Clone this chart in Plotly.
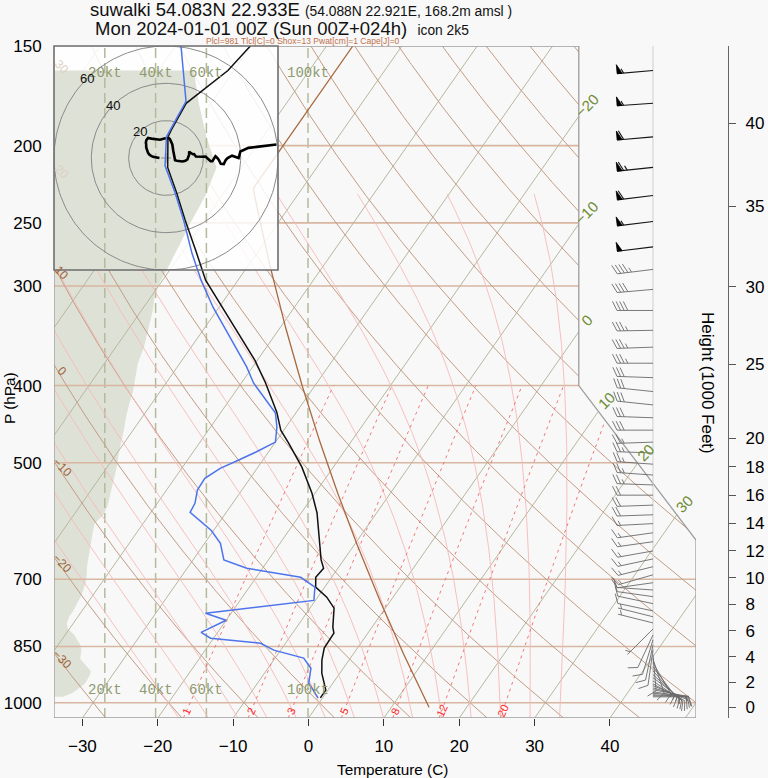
import numpy as np
import plotly.graph_objects as go

# ====================== values ======================
station_title = "suwalki 54.083N 22.933E"
station_detail = "(54.088N 22.921E, 168.2m amsl )"
run_title = "Mon 2024-01-01 00Z (Sun 00Z+024h)"
model_name = "icon 2k5"
index_line = "Plcl=981 Tlcl[C]=0 Shox=13 Pwat[cm]=1 Cape[J]=0"

# temperature profile (hPa, deg C)
temp_p = [986, 964, 918, 884, 854, 818, 804, 761, 737, 716, 696, 678, 662,
          607, 578, 546, 506, 472, 455, 432, 397, 372, 324, 295, 270, 248,
          229, 213, 195, 191, 177, 161, 150]
temp_c = [-0.3, -0.3, -2.4, -3.6, -4.4, -4.5, -5.2, -6.8, -8.8, -11.2, -12.1,
          -11.9, -13.0, -16.1, -17.9, -20.4, -24.2, -28.2, -30.4, -32.6, -36.8,
          -40.3, -48.6, -54.3, -58.5, -62.6, -66.3, -69.8, -72.6, -72.8, -73.3,
          -70.8, -70.1]

# dew point profile (hPa, deg C)
dewp_p = [986, 945, 905, 879, 859, 842, 830, 816, 788, 772, 744, 716, 696,
          678, 662, 631, 608, 577, 562, 541, 523, 508, 496, 485, 471, 451,
          433, 417, 397, 379, 341, 319, 295, 273, 248, 229, 212, 195, 176,
          162, 150]
dewp_c = [-0.6, -3.2, -4.3, -6.2, -10.9, -13.3, -20.4, -22.2, -20.0, -23.4,
          -10.2, -11.3, -14.1, -22.1, -25.9, -27.9, -30.3, -34.8, -35.0, -35.9,
          -36.0, -34.9, -33.2, -31.7, -30.0, -31.2, -32.7, -35.2, -38.4, -40.8,
          -46.9, -50.8, -54.9, -58.6, -62.8, -66.5, -70.3, -72.8, -73.5, -76.5,
          -79.3]

# wind profile (hPa, knots, direction in degrees)
wind_p = [983, 980, 977, 973, 969, 963, 958, 952, 947, 939, 930, 922, 912,
          901, 891, 881, 871, 858, 846, 834, 822, 808, 794, 780, 767, 751,
          736, 722, 707, 691, 675, 660, 645, 628, 612, 596, 581, 565, 549,
          533, 518, 502, 486, 471, 455, 439, 423, 407, 391, 375, 358, 341,
          322, 303, 286, 268, 249, 231, 213, 195, 177, 161]
wind_kt = [3.5, 4.5, 6, 7, 8, 9, 10, 11, 12, 12.8, 13.5, 14.2, 14.4, 13, 11.5,
           10.3, 10.5, 10.8, 10.3, 9.2, 8, 5.5, 5, 6, 7.5, 9, 10.5, 11.5, 12.5,
           12.9, 13, 13.5, 14, 14.5, 15.2, 16, 19.5, 21.2, 22, 23, 24, 24.9,
           25.5, 26.5, 27.5, 28.3, 29.5, 31.1, 32, 33, 35.4, 37, 38.9, 40, 44.5,
           49, 54, 59.6, 64, 60, 57, 55]
wind_dir = [90, 91, 93, 95, 98, 101, 106, 112, 118, 124, 127, 132, 138, 143,
            150, 162, 175, 188, 192, 197, 205, 225, 284, 284, 282, 282, 278,
            274, 262, 254, 256, 258, 260, 262, 262, 267, 268, 268, 270, 272,
            274, 274, 272, 268, 270, 272, 276, 276, 272, 270, 268, 269, 270,
            265, 263, 263, 263, 263, 264, 265, 266, 265]

pressure_ticks = [1000, 850, 700, 500, 400, 300, 250, 200, 150]
pressure_lines = [1000, 850, 700, 500, 400, 300, 250, 200]
temp_ticks = [-30, -20, -10, 0, 10, 20, 30, 40]
height_ticks_kft = [0, 2, 4, 6, 8, 10, 12, 14, 16, 18, 20, 25, 30, 35, 40]
isotherm_values = list(range(-100, 51, 10))
isotherm_labels = [-20, -10, 0, 10, 20, 30]
dry_adiabats = list(range(-30, 171, 10))
dry_labels = [-30, -20, -10, 0, 10, 20, 30]
moist_thetaw = [-20, -16, -12, -8, -4, 0, 4, 8, 12, 16, 20, 24, 28, 32]
mixing_ratios = [1, 2, 3, 5, 8, 12, 20]
hodo_rings = [20, 40, 60]
speed_guides = [20, 40, 60, 100]

# ============================ layout geometry ==============================
FIG_W, FIG_H = 768, 778
M_L, M_T, M_R, M_B = 54, 46, 20, 60
PLOT_W = FIG_W - M_L - M_R
PLOT_H = FIG_H - M_T - M_B
MAIN_W = 642
MAIN_DOM = MAIN_W / PLOT_W
BOX_PX = 224
SPEED100_PX = 254
BARB_BASE_PX = 599
HODO_TOP_P = 230
MOIST_TOP_P = 230
MIX_TOP_P = 400

BG = "#f8f8f8"
FONT = "Liberation Sans"


def skewty(p):
    return 132.182 - 44.061 * np.log10(np.asarray(p, dtype=float))


def skewtx(t, y):
    return 0.54 * np.asarray(t, dtype=float) + 0.90692 * np.asarray(y, dtype=float)


P_BOT, P_TOP = 1045.0, 150.0
Y_BOT, Y_TOP = float(skewty(P_BOT)), float(skewty(P_TOP))
X_MAX = float(skewtx(50, skewty(1000)))
X_MIN = -19.0
X_KINK = float(skewtx(5, skewty(400)))
Y_625, Y_400 = float(skewty(625)), float(skewty(400))
PX_X = MAIN_W / (X_MAX - X_MIN)
PX_Y = PLOT_H / (Y_TOP - Y_BOT)
KT_MAX = 100.0 * MAIN_W / SPEED100_PX


def to_page(x, y):
    return M_L + (x - X_MIN) * PX_X, M_T + (Y_TOP - y) * PX_Y


# ---------------------------- thermodynamics -------------------------------
def tda(theta_c, p):
    return (theta_c + 273.15) * (np.asarray(p) / 1000.0) ** 0.286 - 273.15


def tmr(w, p):
    e = w * np.asarray(p) / (622.0 + w)
    a = np.log(e / 6.112)
    return 243.5 * a / (17.67 - a)


def es(tc):
    return 6.112 * np.exp(17.67 * tc / (tc + 243.5))


def moist_curve(thw, p_out):
    Rd, cp, Lv, eps = 287.04, 1005.7, 2.501e6, 0.622

    def f(T, p):
        e = es(T - 273.15)
        rs = eps * e / (p - e)
        return (Rd * T + Lv * rs) / (cp + Lv * Lv * rs * eps / (Rd * T * T)) / p

    def integrate(p_end, dp):
        p, T = 1000.0, thw + 273.15
        ps, Ts = [p], [T]
        while (dp < 0 and p > p_end) or (dp > 0 and p < p_end):
            k1 = f(T, p)
            k2 = f(T + 0.5 * dp * k1, p + 0.5 * dp)
            k3 = f(T + 0.5 * dp * k2, p + 0.5 * dp)
            k4 = f(T + dp * k3, p + dp)
            T += dp * (k1 + 2 * k2 + 2 * k3 + k4) / 6.0
            p += dp
            ps.append(p)
            Ts.append(T)
        return ps, Ts

    pu, Tu = integrate(min(p_out) - 2, -2.0)
    pd, Tdn = integrate(max(p_out) + 2, 2.0)
    ps = np.array(pd[::-1] + pu[1:])
    Ts = np.array(Tdn[::-1] + Tu[1:])
    order = np.argsort(ps)
    return np.interp(p_out, ps[order], Ts[order]) - 273.15


def std_atm_T(p):
    p = np.asarray(p, dtype=float)
    return np.where(p >= 226.32, 288.15 * (p / 1013.25) ** 0.190263 - 273.15, -56.5)


def std_atm_p(z_m):
    z_m = np.asarray(z_m, dtype=float)
    return np.where(z_m <= 11000, 1013.25 * (1 - 2.25577e-5 * z_m) ** 5.25588,
                    226.32 * np.exp(-(z_m - 11000) / 6341.6))


# ------------------------- clipping to the frame ---------------------------
POLY = [(X_MIN, Y_BOT), (X_MAX, Y_BOT), (X_MAX, Y_625), (X_KINK, Y_400),
        (X_KINK, Y_TOP), (X_MIN, Y_TOP)]
PARTS = [
    [(X_MIN, Y_BOT), (X_KINK, Y_BOT), (X_KINK, Y_TOP), (X_MIN, Y_TOP)],
    [(X_KINK, Y_BOT), (X_MAX, Y_BOT), (X_MAX, Y_625), (X_KINK, Y_400)],
]


def _cross(a, b):
    return a[0] * b[1] - a[1] * b[0]


def clip_t(p0, p1, poly):
    t0, t1 = 0.0, 1.0
    d = (p1[0] - p0[0], p1[1] - p0[1])
    n = len(poly)
    for i in range(n):
        a, b = poly[i], poly[(i + 1) % n]
        e = (b[0] - a[0], b[1] - a[1])
        num = _cross(e, (p0[0] - a[0], p0[1] - a[1]))
        den = _cross(e, d)
        if abs(den) < 1e-12:
            if num < 0:
                return None
            continue
        t = -num / den
        if den > 0:
            t0 = max(t0, t)
        else:
            t1 = min(t1, t)
        if t0 > t1:
            return None
    return (t0, t1)


def clip_seg(p0, p1):
    ivs = [iv for iv in (clip_t(p0, p1, P) for P in PARTS) if iv is not None]
    if not ivs:
        return []
    ivs.sort()
    merged = [list(ivs[0])]
    for a, b in ivs[1:]:
        if a <= merged[-1][1] + 1e-9:
            merged[-1][1] = max(merged[-1][1], b)
        else:
            merged.append([a, b])
    d = (p1[0] - p0[0], p1[1] - p0[1])
    return [((p0[0] + a * d[0], p0[1] + a * d[1]), (p0[0] + b * d[0], p0[1] + b * d[1]))
            for a, b in merged if b - a > 1e-12]


def clip_polyline(xs, ys):
    ox, oy = [], []
    last = None
    for i in range(len(xs) - 1):
        pieces = clip_seg((xs[i], ys[i]), (xs[i + 1], ys[i + 1]))
        if not pieces:
            last = None
            continue
        for a, b in pieces:
            if last is not None and abs(a[0] - last[0]) < 1e-9 and abs(a[1] - last[1]) < 1e-9:
                ox.append(b[0])
                oy.append(b[1])
            else:
                if ox:
                    ox.append(None)
                    oy.append(None)
                ox += [a[0], b[0]]
                oy += [a[1], b[1]]
            last = b
    return ox, oy


def join(parts):
    X, Y = [], []
    for xs, ys in parts:
        if not xs:
            continue
        if X:
            X.append(None)
            Y.append(None)
        X += list(xs)
        Y += list(ys)
    return X, Y


fig = go.Figure()


def line_trace(x, y, color, width, xa="x2", ya="y", dash=None):
    fig.add_trace(go.Scatter(x=x, y=y, mode="lines", xaxis=xa, yaxis=ya,
                             line=dict(color=color, width=width, dash=dash),
                             hoverinfo="skip", showlegend=False))


# ----------------------- wind speed profile shading ------------------------
wY = skewty(wind_p)
shade_x = [0.0] + list(wind_kt) + [0.0]
shade_y = [float(wY[0])] + list(wY) + [float(wY[-1])]
SHADE = "#dee1d6"
fig.add_trace(go.Scatter(x=shade_x, y=shade_y, xaxis="x", yaxis="y", mode="lines",
                         fill="toself", fillcolor=SHADE, line=dict(width=0),
                         hoverinfo="skip", showlegend=False))
for s in speed_guides:
    line_trace([s, s], [Y_BOT, Y_TOP], "#b4bb9c", 1.5, xa="x", ya="y", dash="10px,5px")

# ------------------------------- grid --------------------------------------
p_dense = np.geomspace(P_BOT, 100, 400)
y_dense = skewty(p_dense)

parts = []
for p in pressure_lines:
    yy = float(skewty(p))
    parts.append(clip_polyline([X_MIN - 1, X_MAX + 1], [yy, yy]))
px_, py_ = join(parts)
line_trace(px_, py_, "#d8b6a0", 1.6)

iso_ends = {}
parts = []
for t in isotherm_values:
    cx, cy = clip_polyline([float(skewtx(t, Y_BOT)), float(skewtx(t, Y_TOP + 10))],
                           [Y_BOT, Y_TOP + 10])
    if cx:
        iso_ends[t] = (cx[-1], cy[-1])
    parts.append((cx, cy))
ix, iy = join(parts)
line_trace(ix, iy, "#b7b79e", 1.0)

dry_ends = {}
parts = []
for th in dry_adiabats:
    xs = skewtx(tda(th, p_dense), y_dense)
    cx, cy = clip_polyline(list(xs), list(y_dense))
    if cx:
        dry_ends[th] = (cx[-1], cy[-1])
    parts.append((cx, cy))
dx_, dy_ = join(parts)
line_trace(dx_, dy_, "#c29c84", 1.0)

p_moist = np.geomspace(P_BOT, MOIST_TOP_P, 160)
y_moist = skewty(p_moist)
parts = []
for thw in moist_thetaw:
    xs = skewtx(moist_curve(thw, p_moist), y_moist)
    parts.append(clip_polyline(list(xs), list(y_moist)))
mx_, my_ = join(parts)
line_trace(mx_, my_, "#f7b9b9", 0.9)

p_mix = np.geomspace(P_BOT, MIX_TOP_P, 60)
y_mix = skewty(p_mix)
parts = []
for w in mixing_ratios:
    xs = skewtx(tmr(w, p_mix), y_mix)
    parts.append(clip_polyline(list(xs), list(y_mix)))
wx_, wy_ = join(parts)
line_trace(wx_, wy_, "#f07878", 1.0, dash="3px,4px")

p_std = np.geomspace(1013.25, P_TOP, 200)
y_std = skewty(p_std)
sx, sy = clip_polyline(list(skewtx(std_atm_T(p_std), y_std)), list(y_std))
line_trace(sx, sy, "#a8693f", 1.3)

fx = [v[0] for v in POLY] + [POLY[0][0]]
fy = [v[1] for v in POLY] + [POLY[0][1]]
line_trace(fx, fy, "#9d9d9d", 1.3)

# ------------------------------- wind barbs --------------------------------
XB = X_MIN + BARB_BASE_PX / PX_X
line_trace([XB, XB], [float(wY[0]), Y_TOP], "#cfcfcf", 1.0)


def barb(spd, dirn, yb):
    L, F, SP, PW = 36.0, 9.0, 3.6, 5.0
    r = np.radians(dirn)
    ux, uy = np.sin(r), np.cos(r)
    nx, ny = uy, -ux

    def pt(a, b):
        return (XB + (a * ux + b * nx) / PX_X, yb + (a * uy + b * ny) / PX_Y)

    lines = [pt(0, 0), pt(L, 0), None]
    polys = []
    s = int(5 * round(spd / 5.0))
    n50, rem = divmod(s, 50)
    n10, n5 = divmod(rem, 10)
    n5 = n5 // 5
    pos = L
    for _ in range(n50):
        polys += [pt(pos, 0), pt(pos, F), pt(pos - PW, 0), pt(pos, 0), None]
        pos -= PW + 1.5
    if n50 == 0 and n10 == 0 and n5 == 1:
        pos -= SP
    for _ in range(n10):
        lines += [pt(pos, 0), pt(pos + 0.5 * F, F), None]
        pos -= SP
    if n5:
        lines += [pt(pos, 0), pt(pos + 0.25 * F, 0.5 * F), None]
    return lines, polys, s >= 50


dark_l, light_l, pen = [], [], []
for spd_, dr, yb in zip(wind_kt, wind_dir, wY):
    ln, pl, dark = barb(spd_, dr, float(yb))
    (dark_l if dark else light_l).extend(ln)
    pen.extend(pl)


def xy_of(pts):
    return ([None if q is None else q[0] for q in pts],
            [None if q is None else q[1] for q in pts])


lx, ly = xy_of(light_l)
line_trace(lx, ly, "#6a6a6a", 0.9)
kx, ky = xy_of(dark_l)
line_trace(kx, ky, "#151515", 1.1)
qx, qy = xy_of(pen)
fig.add_trace(go.Scatter(x=qx, y=qy, xaxis="x2", yaxis="y", mode="lines", fill="toself",
                         fillcolor="#000000", line=dict(color="#000000", width=0.8),
                         hoverinfo="skip", showlegend=False))

# --------------------- hodograph box (covering layer) ----------------------
box_xdom = [0, BOX_PX / PLOT_W]
box_ydom = [1 - BOX_PX / PLOT_H, 1]
box_kt_max = KT_MAX * BOX_PX / MAIN_W
box_y_min = Y_TOP - BOX_PX / PX_Y
fig.add_trace(go.Scatter(x=shade_x, y=shade_y, xaxis="x3", yaxis="y3", mode="lines",
                         fill="toself", fillcolor=SHADE, line=dict(width=0),
                         hoverinfo="skip", showlegend=False))
for s in speed_guides:
    line_trace([s, s], [Y_BOT, Y_TOP], "#b4bb9c", 1.5, xa="x3", ya="y3", dash="10px,5px")

th = np.linspace(0, 2 * np.pi, 181)
rx, ry = join([(list(r * np.cos(th)), list(r * np.sin(th))) for r in hodo_rings])
line_trace(rx, ry, "#8a8a8a", 1.0, xa="x4", ya="y4")
hp = np.array(wind_p)
sel = hp >= HODO_TOP_P
rad = np.radians(np.array(wind_dir, dtype=float)[sel])
spd = np.array(wind_kt, dtype=float)[sel]
hu, hv = -spd * np.sin(rad), -spd * np.cos(rad)
line_trace(list(hu), list(hv), "#000000", 2.6, xa="x4", ya="y4")
fig.add_trace(go.Scatter(x=[0], y=[0], xaxis="x4", yaxis="y4", mode="markers",
                         marker=dict(symbol="cross-thin", size=7,
                                     line=dict(color="#8a8a8a", width=1)),
                         hoverinfo="skip", showlegend=False))

# ------------------------------ profiles -----------------------------------
ty = skewty(temp_p)
line_trace(list(skewtx(temp_c, ty)), list(ty), "#111111", 1.5, xa="x5", ya="y5")
dy = skewty(dewp_p)
line_trace(list(skewtx(dewp_c, dy)), list(dy), "#4d74ea", 1.5, xa="x5", ya="y5")

fig.add_trace(go.Scatter(x=[0], y=[Y_BOT], xaxis="x", yaxis="y6", mode="markers",
                         marker=dict(opacity=0), hoverinfo="skip", showlegend=False))

# ------------------------------ annotations --------------------------------
ann = []


def paper_x(page_px):
    return (page_px - M_L) / PLOT_W


def paper_y(page_py):
    return (M_T + PLOT_H - page_py) / PLOT_H


def in_box(px, py):
    return M_L <= px <= M_L + BOX_PX and M_T <= py <= M_T + BOX_PX


ann.append(dict(xref="paper", yref="paper", x=paper_x(88), y=paper_y(10),
                xanchor="left", yanchor="middle", showarrow=False,
                text=f"{station_title} <span style='font-size:13.8px'>{station_detail}</span>",
                font=dict(size=18.5, color="#111")))
ann.append(dict(xref="paper", yref="paper", x=paper_x(93), y=paper_y(29),
                xanchor="left", yanchor="middle", showarrow=False,
                text=f"{run_title}  <span style='font-size:13.8px'>{model_name}</span>",
                font=dict(size=18.5, color="#111")))
ann.append(dict(xref="paper", yref="paper", x=paper_x(303), y=paper_y(41),
                xanchor="center", yanchor="middle", showarrow=False,
                text=index_line, font=dict(size=8.5, color="#c0704a")))
ann.append(dict(xref="paper", yref="paper", x=paper_x(392), y=paper_y(769),
                xanchor="center", yanchor="middle", showarrow=False,
                text="Temperature (C)", font=dict(size=15.3)))
ann.append(dict(xref="paper", yref="paper", x=paper_x(9), y=paper_y(398),
                xanchor="center", yanchor="middle", showarrow=False, textangle=-90,
                text="P (hPa)", font=dict(size=15.3)))
ann.append(dict(xref="paper", yref="paper", x=paper_x(708), y=paper_y(383),
                xanchor="center", yanchor="middle", showarrow=False, textangle=90,
                text="Height (1000 Feet)", font=dict(size=17)))

for s in speed_guides:
    for py in (73, 690):
        ann.append(dict(xref="x", yref="paper", x=s, y=paper_y(py), showarrow=False,
                        xanchor="center", yanchor="middle", text=f"{s}kt",
                        font=dict(family="Liberation Mono", size=14, color="#8e9a70")))

for t in isotherm_labels:
    ex, ey = iso_ends[t]
    ann.append(dict(xref="x2", yref="y", x=ex, y=ey, xshift=8, yshift=11, showarrow=False,
                    textangle=-45, text=f"{t}".replace("-", "\u2212"),
                    font=dict(size=15, color="#6e8c35")))

for th_ in dry_labels:
    ex, ey = dry_ends[th_]
    ppx, ppy = to_page(ex, ey)
    col = "#ddd0c4" if in_box(ppx + 8, ppy + 5) else "#a0643a"
    ann.append(dict(xref="x2", yref="y", x=ex, y=ey, xshift=8, yshift=-6, showarrow=False,
                    textangle=45, text=f"{th_}".replace("-", "\u2212"),
                    font=dict(size=12, color=col)))

P_MIXLAB = 1024
for w in mixing_ratios:
    yy = float(skewty(P_MIXLAB))
    xx = float(skewtx(tmr(w, P_MIXLAB), yy))
    ann.append(dict(xref="x2", yref="y", x=xx, y=yy, showarrow=False, textangle=-65,
                    text=str(w), font=dict(size=11, color="#ff2a2a")))

for r in hodo_rings:
    ann.append(dict(xref="x4", yref="y4", x=-r * np.sqrt(0.5), y=r * np.sqrt(0.5),
                    showarrow=False, text=str(r), font=dict(size=13, color="#111")))

# ------------------------------ shapes -------------------------------------
shapes = [
    dict(type="rect", xref="x3", yref="y3", x0=0, x1=box_kt_max, y0=box_y_min, y1=Y_TOP,
         layer="below", fillcolor="rgba(255,255,255,0.84)", line=dict(width=0)),
    dict(type="rect", xref="paper", yref="paper", x0=0, x1=box_xdom[1],
         y0=box_ydom[0], y1=1, layer="above", fillcolor="rgba(0,0,0,0)",
         line=dict(color="#6e6e6e", width=1.6)),
]

# ------------------------------- axes --------------------------------------
hid = dict(visible=False, showgrid=False, zeroline=False)
height_p = std_atm_p(np.array(height_ticks_kft) * 1000 * 0.3048)

fig.update_layout(
    width=FIG_W, height=FIG_H,
    margin=dict(l=M_L, r=M_R, t=M_T, b=M_B, autoexpand=False),
    paper_bgcolor=BG, plot_bgcolor="rgba(0,0,0,0)",
    font=dict(family=FONT, color="#000"),
    showlegend=False,
    hovermode=False,
    xaxis=dict(domain=[0, MAIN_DOM], range=[0, KT_MAX], anchor="y", **hid),
    yaxis=dict(domain=[0, 1], range=[Y_BOT, Y_TOP], anchor="x",
               tickvals=list(skewty(pressure_ticks)), ticktext=[str(p) for p in pressure_ticks],
               ticks="outside", ticklen=8, tickcolor="rgba(0,0,0,0)",
               showgrid=False, zeroline=False, showline=False,
               tickfont=dict(size=17), automargin=False),
    xaxis2=dict(overlaying="x", anchor="y", side="bottom", range=[X_MIN, X_MAX],
                tickvals=list(skewtx(temp_ticks, Y_BOT)),
                ticktext=[str(t).replace("-", "\u2212") for t in temp_ticks],
                ticks="outside", ticklen=7, tickcolor="#333", tickwidth=1,
                showgrid=False, zeroline=False, showline=False,
                tickfont=dict(size=17), ticklabelstandoff=6, automargin=False),
    xaxis3=dict(domain=box_xdom, range=[0, box_kt_max], anchor="y3", **hid),
    yaxis3=dict(domain=box_ydom, range=[box_y_min, Y_TOP], anchor="x3", **hid),
    xaxis4=dict(domain=box_xdom, range=[-60, 60], anchor="y4", **hid),
    yaxis4=dict(domain=box_ydom, range=[-60, 60], anchor="x4", **hid),
    xaxis5=dict(domain=[0, MAIN_DOM], range=[X_MIN, X_MAX], anchor="y5", **hid),
    yaxis5=dict(domain=[0, 1], range=[Y_BOT, Y_TOP], anchor="x5", **hid),
    yaxis6=dict(overlaying="y", anchor="free", position=(728 - M_L) / PLOT_W, side="right",
                range=[Y_BOT, Y_TOP], tickvals=list(skewty(height_p)),
                ticktext=[str(h) for h in height_ticks_kft],
                ticks="outside", ticklen=7, tickcolor="#555", showline=True,
                linecolor="#666", linewidth=1.2, showgrid=False, zeroline=False,
                tickfont=dict(size=17), ticklabelstandoff=6, automargin=False),
    annotations=ann,
    shapes=shapes,
)

# the page's default 8px body margin would push the chart off the 768x778 view
fig.write_html("out.html", config={"displayModeBar": False, "staticPlot": True},
               post_script="document.body.style.margin='0';")
